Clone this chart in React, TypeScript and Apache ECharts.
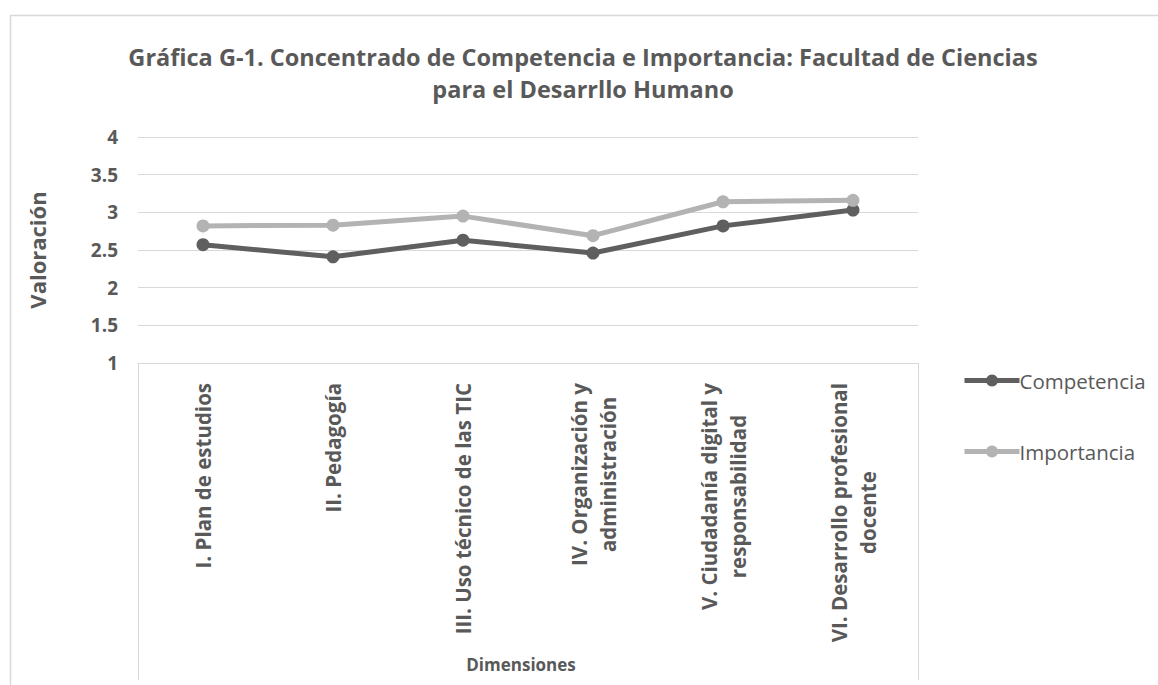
import React, { useEffect, useRef } from "react";
import * as echarts from "echarts";

const TITLE = "Gráfica G-1. Concentrado de Competencia e Importancia: Facultad de Ciencias\npara el Desarrllo Humano";
const CATEGORIES = [
  "I. Plan de estudios",
  "II. Pedagogía",
  "III. Uso técnico de las TIC",
  "IV. Organización y\nadministración",
  "V. Ciudadanía digital y\nresponsabilidad",
  "VI. Desarrollo profesional\ndocente",
];
const COMPETENCIA = [2.57, 2.41, 2.63, 2.46, 2.82, 3.03];
const IMPORTANCIA = [2.82, 2.83, 2.95, 2.69, 3.14, 3.16];
const SERIES_NAMES = ["Competencia", "Importancia"];
const Y_MIN = 1;
const Y_MAX = 4;
const Y_STEP = 0.5;

const FONT = "'Open Sans', 'Noto Sans', sans-serif";
const TEXT = "#595959";
const GRIDC = "#d9d9d9";
const DARK = "#5f5f5f";
const LIGHT = "#b3b3b3";

const GRID = { left: 138, right: 240, top: 137, bottom: 322 };

export default function App() {
  const ref = useRef<HTMLDivElement>(null);
  useEffect(() => {
    if (!ref.current) return;
    const chart = echarts.init(ref.current, undefined, { renderer: "svg" });
    const W = 1158;
    const H = 685;
    const axisY = H - GRID.bottom;
    const option: any = {
      animation: false,
      backgroundColor: "#ffffff",
      title: {
        text: TITLE,
        left: 578,
        textAlign: "center",
        top: 36,
        textStyle: {
          fontFamily: FONT,
          fontWeight: "bold",
          fontSize: 23.5,
          color: TEXT,
          lineHeight: 32,
        },
      },
      grid: GRID,
      legend: {
        orient: "vertical",
        left: 962,
        top: 370,
        padding: 0,
        itemWidth: 55,
        itemHeight: 15,
        itemGap: 50,
        data: SERIES_NAMES,
        lineStyle: { width: 5 },
        textStyle: { fontFamily: FONT, fontSize: 20.5, color: TEXT, padding: [0, 0, 0, -5] },
      },
      xAxis: {
        type: "category",
        data: CATEGORIES,
        boundaryGap: true,
        name: "Dimensiones",
        nameLocation: "middle",
        nameGap: 293,
        nameTextStyle: {
          fontFamily: FONT,
          fontWeight: "bold",
          fontSize: 17,
          color: TEXT,
          padding: [0, 14, 0, 0],
        },
        axisLine: { show: true, lineStyle: { color: GRIDC, width: 1 } },
        axisTick: { show: false },
        axisLabel: {
          rotate: 90,
          margin: 20,
          interval: 0,
          formatter: (v: string) =>
            v
              .split("\n")
              .map((l) => `{c|${l}}`)
              .join("\n"),
          rich: {
            c: {
              align: "center",
              fontFamily: FONT,
              fontWeight: "bold",
              fontSize: 20.5,
              color: TEXT,
              lineHeight: 29,
            },
          },
        },
      },
      yAxis: {
        type: "value",
        min: Y_MIN,
        max: Y_MAX,
        interval: Y_STEP,
        name: "Valoración",
        nameLocation: "middle",
        nameRotate: 90,
        nameGap: 90,
        nameTextStyle: { fontFamily: FONT, fontWeight: "bold", fontSize: 22, color: TEXT },
        axisLine: { show: false },
        axisTick: { show: false },
        axisLabel: {
          margin: 20,
          fontFamily: FONT,
          fontWeight: "bold",
          fontSize: 19,
          color: TEXT,
        },
        splitLine: { show: true, lineStyle: { color: GRIDC, width: 1 } },
      },
      series: [
        {
          name: SERIES_NAMES[0],
          type: "line",
          data: COMPETENCIA,
          symbol: "circle",
          symbolSize: 13,
          color: DARK,
          lineStyle: { width: 5, color: DARK },
          itemStyle: { color: DARK },
        },
        {
          name: SERIES_NAMES[1],
          type: "line",
          data: IMPORTANCIA,
          symbol: "circle",
          symbolSize: 13,
          color: LIGHT,
          lineStyle: { width: 5, color: LIGHT },
          itemStyle: { color: LIGHT },
        },
      ],
      graphic: [
        {
          type: "polyline",
          silent: true,
          shape: { points: [[10.5, H], [10.5, 15.5], [W, 15.5]] },
          style: { stroke: GRIDC, lineWidth: 1.5, fill: null },
        },
        {
          type: "line",
          silent: true,
          shape: { x1: GRID.left + 0.5, y1: axisY, x2: GRID.left + 0.5, y2: 680 },
          style: { stroke: GRIDC, lineWidth: 1 },
        },
        {
          type: "line",
          silent: true,
          shape: { x1: W - GRID.right + 0.5, y1: axisY, x2: W - GRID.right + 0.5, y2: 680 },
          style: { stroke: GRIDC, lineWidth: 1 },
        },
      ],
    };
    chart.setOption(option);
    return () => chart.dispose();
  }, []);
  return (
    <div
      ref={ref}
      style={{ position: "fixed", left: 0, top: 0, width: 1158, height: 685, background: "#fff" }}
    />
  );
}
